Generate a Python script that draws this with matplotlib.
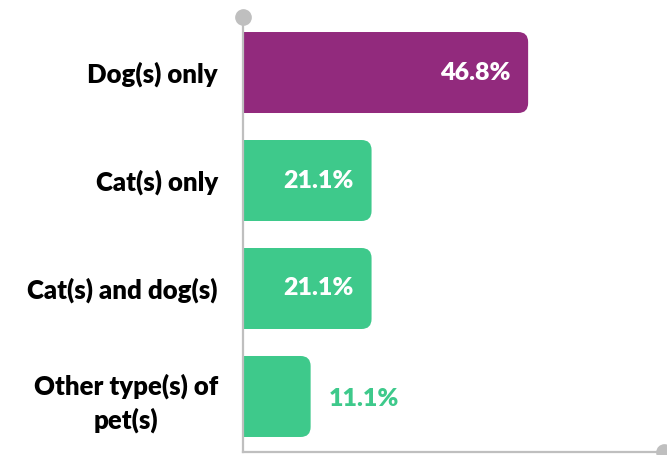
import matplotlib.pyplot as plt
from matplotlib.patches import FancyBboxPatch
import matplotlib.transforms as mtransforms

# ===== DADOS =====
categorias = ["Dog(s) only", "Cat(s) only", "Cat(s) and dog(s)", "Other type(s) of\npet(s)"]
valores = [46.8, 21.1, 21.1, 11.1]
cores = ["#922A7D", "#3EC98B", "#3EC98B", "#3EC98B"]
rotulo_dentro = [True, True, True, False]

cinza = "#BFBFBF"
plt.rcParams["font.family"] = ["Lato", "DejaVu Sans"]

# ===== GRÁFICO =====
fig = plt.figure(figsize=(6.67, 4.55), dpi=100)
W, H = 667, 455
ax = fig.add_axes([243 / W, 3 / H, (664 - 243) / W, (452 - 17) / H])

xmax = 69.1
ax.set_xlim(0, xmax)
ax.set_ylim(len(categorias) - 0.486, -0.514)

altura = 0.75
px_x = (664 - 243) / xmax
px_y = (452 - 17) / (len(categorias) + 0.028)
raio_px = 10
rx = raio_px / px_x
aspecto = (raio_px / px_y) / rx

for i, (v, c) in enumerate(zip(valores, cores)):
    caixa = FancyBboxPatch((-3, i - altura / 2), v + 3, altura,
                           boxstyle=f"round,pad=0,rounding_size={rx}",
                           mutation_aspect=aspecto,
                           facecolor=c, edgecolor="none", zorder=2)
    ax.add_patch(caixa)
    if rotulo_dentro[i]:
        off = mtransforms.offset_copy(ax.transData, fig=fig, x=-13, y=0, units="points")
        ax.text(v, i, f"{v:.1f}%", transform=off, ha="right", va="center",
                color="white", fontsize=18, fontweight="heavy", zorder=3)
    else:
        off = mtransforms.offset_copy(ax.transData, fig=fig, x=13, y=-2, units="points")
        ax.text(v, i, f"{v:.1f}%", transform=off, ha="left", va="center",
                color=c, fontsize=18, fontweight="heavy", zorder=3)

ax.set_yticks(range(len(categorias)))
ax.set_yticklabels(categorias, fontsize=18.5, fontweight="heavy",
                   multialignment="center", linespacing=1.4)
ax.tick_params(axis="y", length=0, pad=18)
ax.set_xticks([])

for lado in ["top", "right"]:
    ax.spines[lado].set_visible(False)
for lado in ["left", "bottom"]:
    ax.spines[lado].set_color(cinza)
    ax.spines[lado].set_linewidth(1.6)
    ax.spines[lado].set_zorder(4)

# marcadores nas pontas dos eixos
ax.plot([0], [-0.514], "o", color=cinza, markersize=11, clip_on=False, zorder=5)
ax.plot([xmax], [len(categorias) - 0.486], "o", color=cinza, markersize=11, clip_on=False, zorder=5)

# ===== SALVAR =====
fig.savefig("out.png", dpi=100)
